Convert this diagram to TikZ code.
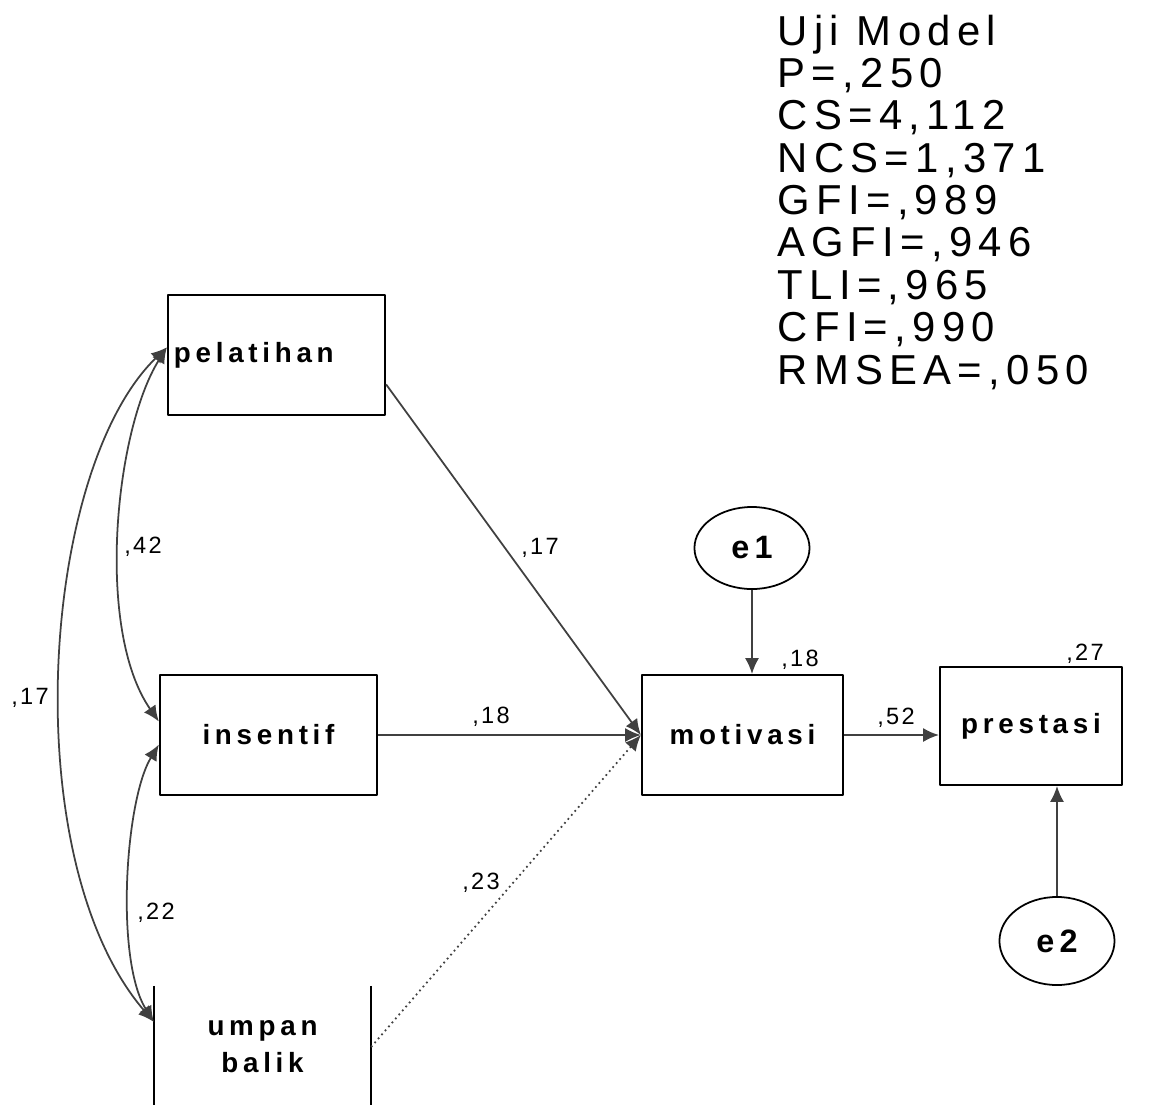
\documentclass[tikz,border=0pt]{standalone}
\usepackage{fontspec}
\newfontfamily\statfont[LetterSpace=15]{Liberation Sans}
\newfontfamily\varfont[LetterSpace=17]{Liberation Sans}
\newfontfamily\coeffont[LetterSpace=10]{Liberation Sans}
\usetikzlibrary{arrows.meta,shapes.geometric}

\begin{document}
\begin{tikzpicture}[x=0.01cm, y=-0.01cm, line join=round,
  var/.style={draw, line width=0.6pt, minimum height=1.2cm, inner sep=0pt,
    font=\varfont\bfseries\fontsize{7.9}{10.5}\selectfont},
  err/.style={draw, ellipse, line width=0.5pt, inner sep=0pt,
    font=\varfont\bfseries\fontsize{9.2}{11}\selectfont},
  coef/.style={inner sep=0pt, font=\coeffont\fontsize{6.7}{8}\selectfont},
  path/.style={line width=0.5pt, black!75, -{Latex[length=4.5pt,width=4pt]}},
  cov/.style={line width=0.5pt, black!75, {Latex[length=4.5pt,width=4pt]}-{Latex[length=4.5pt,width=4pt]}}]
\useasboundingbox (0,0) rectangle (1156,1105);

% fit indices
\node[anchor=north west, inner sep=0pt, align=left,
  font=\statfont\fontsize{11.9}{12.05}\selectfont] (stats) at (777,14)
  {Uji Model\\P=,250\\CS=4,112\\NCS=1,371\\GFI=,989\\AGFI=,946\\TLI=,965\\CFI=,990\\RMSEA=,050};

% variables
\node[var, minimum width=2.17cm, text width=2.05cm, inner xsep=0.06cm, align=left] (pel) at (276.5,355) {pelatihan};
\node[var, minimum width=2.17cm] (ins) at (268.5,735) {insentif};
\node[var, draw=none, minimum width=2.15cm, align=center] (ub) at (262.5,1047) {umpan\\balik};
\draw[line width=0.6pt] (ub.north west) -- (ub.south west) (ub.north east) -- (ub.south east);
\node[var, minimum width=2.01cm] (mot) at (742.5,735) {motivasi};
\node[var, minimum width=1.82cm, minimum height=1.18cm] (pres) at (1031,726) {prestasi};
\node[err, minimum width=1.15cm, minimum height=0.82cm] (e1) at (752,548) {e1};
\node[err, minimum width=1.15cm, minimum height=0.88cm] (e2) at (1057,941) {e2};

% regression paths
\draw[path] (pel.-15) -- (mot.west);
\draw[path] (ins.east) -- (mot.west);
\draw[path, densely dotted] (ub.east) -- (mot.west);
\draw[path] (mot.east) -- (mot.east -| pres.west);
\draw[path] (e1.south) -- (e1.south |- mot.north);
\draw[path] (e2.north) -- (e2.north |- pres.south);

% covariances
\draw[cov] (pel.176) .. controls (115,430) and (95,630) .. (ins.173);
\draw[cov] (ins.185) .. controls (125,800) and (115,960) .. (ub.167);
\draw[cov] (pel.176) .. controls (40,470) and (15,860) .. (ub.167);

% estimates
\node[coef] (b1) at (540,548) {,17};
\node[coef] (b2) at (491,717) {,18};
\node[coef] (b3) at (481,883) {,23};
\node[coef] (b4) at (896,718) {,52};
\node[coef] (r1) at (143,547) {,42};
\node[coef] (r2) at (30,698) {,17};
\node[coef] (r3) at (156,913) {,22};
\node[coef] (s1) at (800,660) {,18};
\node[coef] (s2) at (1085,654) {,27};
\end{tikzpicture}
\end{document}
